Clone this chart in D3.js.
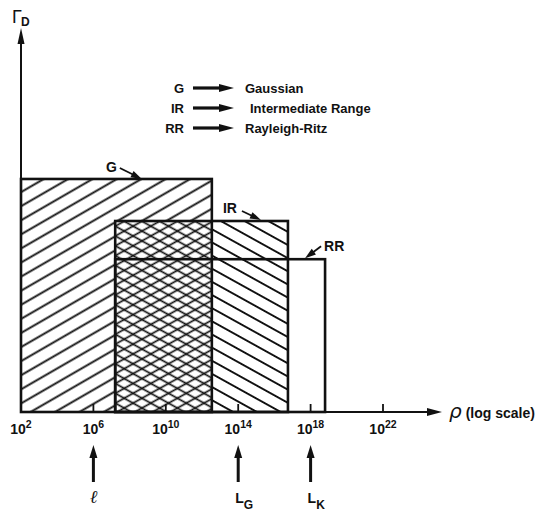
<!DOCTYPE html>
<html>
<head>
<meta charset="utf-8">
<script src="https://cdn.jsdelivr.net/npm/d3@7"></script>
<style>
  body { margin: 0; background: #fff; }
  svg { display: block; font-family: "Liberation Sans", Arial, sans-serif; font-weight: bold; }
  text { fill: #111; }
</style>
</head>
<body>
<svg id="chart" width="557" height="512"></svg>
<script>
      //begin: data
      var methods = ["G", "IR", "RR"];
      var methodNames = ["Gaussian", "Intermediate Range", "Rayleigh-Ritz"];
      var rhoLow = [1e2, 1.6e7, 1.6e7];
      var rhoHigh = [3.5e12, 5.6e16, 6.3e18];
      var gammaD = [6.1, 5.0, 4.0];
      var tickValues = [1e2, 1e6, 1e10, 1e14, 1e18, 1e22];
      var markerValues = [1e6, 1e14, 1e18];
      var markerNames = ["\u2113", "L", "L"];
      var markerSubs = ["", "G", "K"];
      //end: data

      //begin: layout conf.
      var originX = 21,
          originY = 412,
          xAxisTip = 442,
          yAxisTip = 28,
          ink = "#111";

      var x = d3.scaleLog().domain([1e2, 1e22]).range([originX, 383]);
      var y = d3.scaleLinear().domain([0, 10]).range([originY, 30]);

      // where each bar's tag sits, relative to the bar's top-right corner
      var tagTip = [[-70, 0], [-27, -1], [-20, -1]],
          tagTail = [[-92, -11], [-46, -10], [-4, -13]],
          tagText = [[-95, -7], [-65, -8], [-1, -8]],
          tagAnchor = ["end", "start", "start"];
      //end: layout conf.

      var svg = d3.select("#chart");
      var defs = svg.append("defs");

      function hatch(id, spacing, angle, width) {
        var p = defs.append("pattern")
          .attr("id", id)
          .attr("patternUnits", "userSpaceOnUse")
          .attr("width", spacing)
          .attr("height", spacing)
          .attr("patternTransform", "rotate(" + angle + ")");
        p.append("line")
          .attr("x1", -1).attr("x2", spacing + 1)
          .attr("y1", spacing / 2).attr("y2", spacing / 2)
          .attr("stroke", ink)
          .attr("stroke-width", width);
      }
      hatch("hatchG", 12.2, -30, 1.9);
      hatch("hatchIR", 11.5, 29, 1.9);
      hatch("crossA", 8.6, -29, 1.7);
      hatch("crossB", 8.6, 29, 1.7);

      function arrow(g, x1, y1, x2, y2, w, headLen, headW) {
        var a = Math.atan2(y2 - y1, x2 - x1),
            bx = x2 - headLen * Math.cos(a),
            by = y2 - headLen * Math.sin(a),
            nx = Math.sin(a) * headW / 2,
            ny = -Math.cos(a) * headW / 2;
        g.append("line")
          .attr("x1", x1).attr("y1", y1)
          .attr("x2", bx + Math.cos(a)).attr("y2", by + Math.sin(a))
          .attr("stroke", ink)
          .attr("stroke-width", w);
        g.append("path")
          .attr("d", "M" + [x2, y2] + "L" + [bx + nx, by + ny] + "L" + [bx - nx, by - ny] + "Z")
          .attr("fill", ink);
      }

      //begin: bars
      var bars = svg.append("g").classed("bars", true);

      bars.append("rect")
        .attr("x", x(rhoLow[0]))
        .attr("y", y(gammaD[0]))
        .attr("width", x(rhoHigh[0]) - x(rhoLow[0]))
        .attr("height", originY - y(gammaD[0]))
        .attr("fill", "url(#hatchG)");

      bars.append("rect")
        .attr("x", x(rhoLow[1]))
        .attr("y", y(gammaD[1]))
        .attr("width", x(rhoHigh[1]) - x(rhoLow[1]))
        .attr("height", originY - y(gammaD[1]))
        .attr("fill", "url(#hatchIR)");

      // where G and IR overlap the hatching becomes a finer cross-hatch
      var ox0 = x(Math.max(rhoLow[0], rhoLow[1])),
          ox1 = x(Math.min(rhoHigh[0], rhoHigh[1])),
          oy = y(Math.min(gammaD[0], gammaD[1]));
      ["#fff", "url(#crossA)", "url(#crossB)"].forEach(function(f) {
        bars.append("rect")
          .attr("x", ox0).attr("y", oy)
          .attr("width", ox1 - ox0)
          .attr("height", originY - oy)
          .attr("fill", f);
      });

      bars.selectAll(".outline")
        .data(methods)
        .enter().append("rect")
          .classed("outline", true)
          .attr("x", function(d, i) { return x(rhoLow[i]); })
          .attr("y", function(d, i) { return y(gammaD[i]); })
          .attr("width", function(d, i) { return x(rhoHigh[i]) - x(rhoLow[i]); })
          .attr("height", function(d, i) { return originY - y(gammaD[i]); })
          .attr("fill", "none")
          .attr("stroke", ink)
          .attr("stroke-width", 2.6);
      //end: bars

      //begin: tags on bars
      var tags = svg.append("g").classed("tags", true);
      methods.forEach(function(m, i) {
        var cx = x(rhoHigh[i]), cy = y(gammaD[i]);
        arrow(tags, cx + tagTail[i][0], cy + tagTail[i][1], cx + tagTip[i][0], cy + tagTip[i][1], 1.8, 11, 7);
        tags.append("text")
          .attr("x", cx + tagText[i][0])
          .attr("y", cy + tagText[i][1])
          .attr("text-anchor", tagAnchor[i])
          .style("font-size", "14px")
          .text(m);
      });
      //end: tags on bars

      //begin: axes
      var axes = svg.append("g").classed("axes", true);
      arrow(axes, originX, originY, xAxisTip, originY, 2, 15, 8);
      arrow(axes, originX, originY + 1, originX, yAxisTip, 2, 16, 7);

      axes.selectAll(".tick")
        .data(tickValues.slice(1))
        .enter().append("line")
          .classed("tick", true)
          .attr("x1", function(d) { return x(d); })
          .attr("x2", function(d) { return x(d); })
          .attr("y1", originY)
          .attr("y2", originY - 8)
          .attr("stroke", ink)
          .attr("stroke-width", 1.8);

      var tickLabel = axes.selectAll(".tick-label")
        .data(tickValues)
        .enter().append("text")
          .classed("tick-label", true)
          .attr("x", function(d) { return x(d); })
          .attr("y", originY + 22)
          .attr("text-anchor", "middle")
          .style("font-size", "14px");
      tickLabel.append("tspan").text("10");
      tickLabel.append("tspan")
        .attr("dy", -6)
        .style("font-size", "10.5px")
        .text(function(d) { return Math.round(Math.log10(d)); });

      var xTitle = axes.append("text")
        .attr("x", 449)
        .attr("y", originY + 6)
        .style("font-size", "14px");
      xTitle.append("tspan")
        .style("font-family", "DejaVu Sans")
        .style("font-style", "italic")
        .style("font-weight", "normal")
        .style("font-size", "20px")
        .text("\u03c1");
      xTitle.append("tspan").attr("dx", 4).text("(log  scale)");

      var yTitle = axes.append("text")
        .attr("x", 12)
        .attr("y", 23)
        .style("font-size", "18px")
        .style("font-weight", "normal");
      yTitle.append("tspan").text("\u0393");
      yTitle.append("tspan")
        .attr("dy", 3)
        .attr("dx", -1)
        .style("font-size", "12px")
        .style("font-weight", "bold")
        .text("D");
      //end: axes

      //begin: length-scale markers under the axis
      var markers = svg.append("g").classed("markers", true);
      markerValues.forEach(function(v, i) {
        arrow(markers, x(v), 482, x(v), 445, 3, 13, 8);
        var t = markers.append("text")
          .attr("x", x(v) + (markerSubs[i] ? -3 : 0))
          .attr("y", 503)
          .attr("text-anchor", markerSubs[i] ? "start" : "middle");
        if (markerSubs[i]) {
          t.append("tspan").style("font-size", "14px").text(markerNames[i]);
          t.append("tspan")
            .attr("dy", 6)
            .style("font-size", "12px")
            .text(markerSubs[i]);
        } else {
          t.style("font-family", "DejaVu Serif")
            .style("font-style", "italic")
            .style("font-weight", "normal")
            .style("font-size", "18px")
            .text(markerNames[i]);
        }
      });
      //end: length-scale markers

      //begin: legend
      var legend = svg.append("g").classed("legend", true);
      methods.forEach(function(m, i) {
        var by = 93 + i * 20;
        legend.append("text")
          .attr("x", 184)
          .attr("y", by)
          .attr("text-anchor", "end")
          .style("font-size", "13px")
          .text(m);
        arrow(legend, 193, by - 5, 234, by - 5, 3.2, 15, 8);
        legend.append("text")
          .attr("x", i == 1 ? 250 : 245)
          .attr("y", by)
          .style("font-size", "13px")
          .text(methodNames[i]);
      });
      //end: legend
</script>
</body>
</html>
